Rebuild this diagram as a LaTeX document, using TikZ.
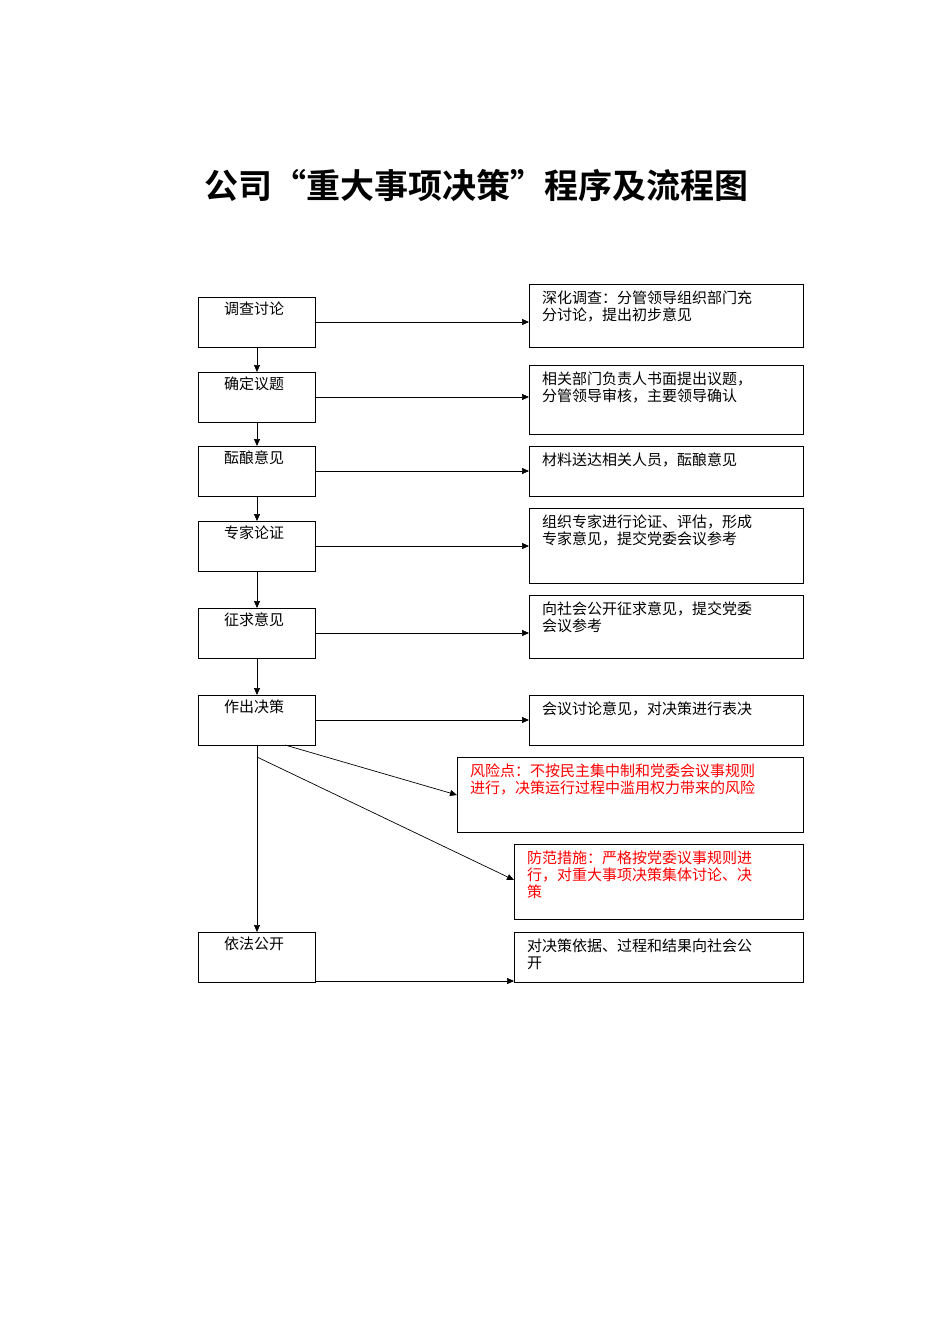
\documentclass[tikz,border=0pt]{standalone}
\usepackage{fontspec}
\setmainfont{Noto Sans CJK SC}
\newfontfamily\cjkb{Noto Sans CJK SC Bold}
\usetikzlibrary{arrows.meta}
\begin{document}
\begin{tikzpicture}[x=1pt,y=-1pt,
  bx/.style={draw,line width=0.8pt,inner sep=0pt},
  tx/.style={anchor=north west,inner sep=0pt,align=left,font=\fontsize{15}{17}\selectfont},
  ar/.style={-{Triangle[length=7pt,width=6pt]},line width=0.7pt}]
\useasboundingbox (0,0) rectangle (950,1344);
\node[anchor=center,font=\cjkb\fontsize{34}{36}\selectfont] (title) at (476,185) {公司“重大事项决策”程序及流程图};
% left boxes
\foreach \n/\t/\b/\s in {a/297/347/调查讨论,b/372/422/确定议题,c/446/496/酝酿意见,d/521/571/专家论证,e/608/658/征求意见,f/695/745/作出决策,g/932/982/依法公开}{
  \draw[bx] (198,\t) rectangle (315,\b);
  \coordinate (\n) at (257,\t);
  \coordinate (\n b) at (257,\b);
  \coordinate (\n r) at (315,\t+25);
  \node[tx] (\n t) at (224,\t+5) {\s};
}
% right boxes
\foreach \n/\x/\t/\b/\s in {
 A/529/284/347/{深化调查：分管领导组织部门充\\分讨论，提出初步意见},
 B/529/365/434/{相关部门负责人书面提出议题，\\分管领导审核，主要领导确认},
 C/529/446/496/{材料送达相关人员，酝酿意见},
 D/529/508/583/{组织专家进行论证、评估，形成\\专家意见，提交党委会议参考},
 E/529/595/658/{向社会公开征求意见，提交党委\\会议参考},
 F/529/695/745/{会议讨论意见，对决策进行表决},
 G/514/932/982/{对决策依据、过程和结果向社会公\\开}}{
  \draw[bx] (\x,\t) rectangle (803,\b);
  \node[tx] (\n t) at (\x+13,\t+7) {\s};
}
\draw[bx,black] (457,757) rectangle (803,832);
\node[tx,text=red] (Rt) at (470,764) {风险点：不按民主集中制和党委会议事规则\\进行，决策运行过程中滥用权力带来的风险};
\draw[bx] (514,844) rectangle (803,919);
\node[tx,text=red] (Mt) at (527,851) {防范措施：严格按党委议事规则进\\行，对重大事项决策集体讨论、决\\策};
% arrows
\draw[ar] (ab) -- (b);
\draw[ar] (bb) -- (c);
\draw[ar] (cb) -- (d);
\draw[ar] (db) -- (e);
\draw[ar] (eb) -- (f);
\draw[ar] (fb) -- (g);
\draw[ar] (ar) -- (529,322);
\draw[ar] (br) -- (529,397);
\draw[ar] (cr) -- (529,471);
\draw[ar] (dr) -- (529,546);
\draw[ar] (er) -- (529,633);
\draw[ar] (fr) -- (529,720);
\draw[ar] (285,745) -- (457,795);
\draw[ar] (257,757) -- (514,880);
\draw[ar] (315,981) -- (514,981);
\end{tikzpicture}
\end{document}
